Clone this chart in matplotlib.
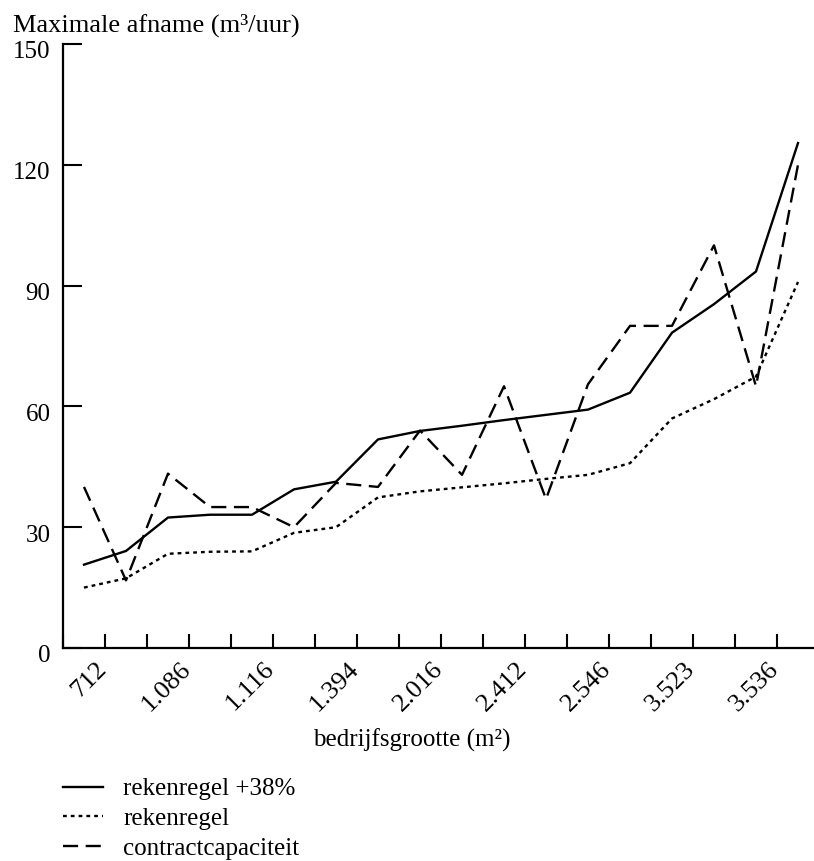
import numpy as np
import matplotlib
matplotlib.use("Agg")
import matplotlib.pyplot as plt
import matplotlib.transforms as mtransforms

plt.rcParams['font.family'] = ['Liberation Serif', 'DejaVu Serif']

# bedrijfsgrootte labels (every other farm is labelled)
size_labels = ['712', '1.086', '1.116', '1.394', '2.016', '2.412', '2.546', '3.523', '3.536']

# maximale afname per bedrijf (m3/uur), 18 farms
rekenregel_38 = [20.7, 24.1, 32.4, 33.1, 33.1, 39.4, 41.3, 51.8, 53.9,
                 55.2, 56.6, 57.9, 59.2, 63.4, 78.3, 85.4, 93.5, 125.4]
rekenregel = [15.0, 17.3, 23.4, 23.9, 24.0, 28.6, 30.0, 37.4, 38.9,
              39.9, 40.9, 42.0, 43.0, 45.9, 57.0, 61.8, 67.4, 90.9]
contract = [40.0, 16.8, 43.3, 35.0, 35.0, 30.0, 41.0, 40.0, 54.0,
            43.0, 65.0, 37.0, 65.5, 80.0, 80.0, 100.0, 65.0, 120.0]

W, H = 814, 861
fig = plt.figure(figsize=(W / 100, H / 100), dpi=100)
# axes spans from x=63px to one category past the image edge
ax = fig.add_axes([63 / W, (H - 648) / H, (819 - 63) / W, (648 - 44) / H])

x = np.arange(len(rekenregel_38))
lw = 1.7
l1, = ax.plot(x, rekenregel_38, color='black', lw=lw, linestyle='-', label='rekenregel +38%')
l2, = ax.plot(x, rekenregel, color='black', lw=lw, linestyle=(0, (1.6, 1.7)), label='rekenregel')
l3, = ax.plot(x, contract, color='black', lw=lw, linestyle=(0, (6.4, 3.2)), label='contractcapaciteit')

ax.set_xlim(-0.5, len(x) - 0.5)
ax.set_ylim(0, 150)
ax.set_yticks([0, 30, 60, 90, 120, 150])

# tick marks on the category boundaries, labels on every other boundary
bounds = np.arange(-0.5, len(x), 1.0)
tick_text = [''] * len(bounds)
for i, lab in enumerate(size_labels):
    tick_text[2 * i + 1] = lab
ax.set_xticks(bounds)
ax.set_xticklabels(tick_text, rotation=45, ha='right', va='top')

for side in ['top', 'right']:
    ax.spines[side].set_visible(False)
for side in ['left', 'bottom']:
    ax.spines[side].set_linewidth(1.6)

ax.tick_params(axis='y', direction='in', length=13.5, width=1.5, labelsize=18, pad=9)
ax.tick_params(axis='x', direction='in', length=10, width=1.5, labelsize=19, pad=7)

# y labels sit a little below their ticks in the original
shift_y = mtransforms.ScaledTranslation(0, -0.06, fig.dpi_scale_trans)
for lab in ax.get_yticklabels():
    lab.set_transform(lab.get_transform() + shift_y)
shift_x = mtransforms.ScaledTranslation(0.06, 0, fig.dpi_scale_trans)
for lab in ax.get_xticklabels():
    lab.set_transform(lab.get_transform() + shift_x)

fig.text(13 / W, 1 - 25 / H, 'Maximale afname (m³/uur)', fontsize=19, va='center', ha='left')
fig.text(412 / W, 1 - 740 / H, 'bedrijfsgrootte (m²)', fontsize=18, va='center', ha='center')

fig.legend(handles=[l1, l2, l3], loc='upper left', bbox_to_anchor=(63 / W, 1 - 778 / H),
           frameon=False, fontsize=18, handlelength=1.6, handletextpad=0.8,
           labelspacing=0.28, borderpad=0, borderaxespad=0)

fig.savefig('out.png', dpi=100)
